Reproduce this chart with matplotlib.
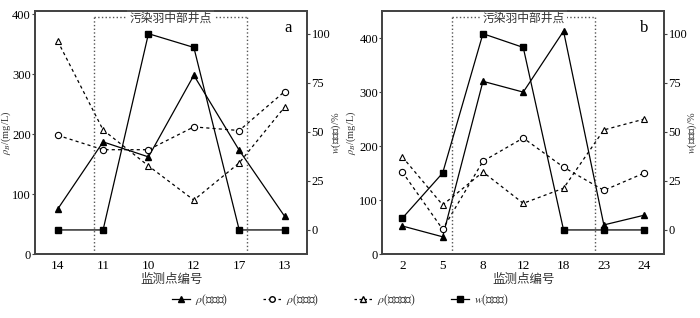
import matplotlib
matplotlib.use("Agg")
import matplotlib.pyplot as plt
from matplotlib.lines import Line2D

plt.rcParams['font.family'] = ['Liberation Serif', 'Noto Sans CJK SC', 'DejaVu Sans']
plt.rcParams['mathtext.fontset'] = 'stix'
plt.rcParams['axes.unicode_minus'] = False

# panel a data
sites_a = ["14", "11", "10", "12", "17", "13"]
cl_a = [75, 187, 162, 298, 173, 63]
so4_a = [198, 174, 174, 212, 206, 271]
hco3_a = [355, 207, 147, 90, 152, 245]
fe_a = [0, 0, 100, 93, 0, 0]

# panel b data
sites_b = ["2", "5", "8", "12", "18", "23", "24"]
cl_b = [52, 32, 320, 300, 413, 54, 72]
so4_b = [152, 46, 172, 215, 161, 118, 150]
hco3_b = [180, 91, 152, 94, 122, 230, 250]
fe_b = [6, 29, 100, 93, 0, 0, 0]

# plume-centre well range (in x index units)
plume_a = (0.79, 4.18)
plume_b = (1.24, 4.78)

spine_col = '#444444'


def draw_panel(ax, sites, cl, so4, hco3, fe, plume, ytop, letter):
    x = list(range(len(sites)))
    ax2 = ax.twinx()
    ax.plot(x, cl, '-', color='k', lw=0.9, marker='^', ms=4.5, mfc='k', mec='k')
    ax.plot(x, so4, '--', color='k', lw=0.9, dashes=(2.5, 2.5), marker='o', ms=4.5,
            mfc='white', mec='k', mew=0.8)
    ax.plot(x, hco3, '--', color='k', lw=0.9, dashes=(2.5, 2.5), marker='^', ms=4.5,
            mfc='white', mec='k', mew=0.8)
    ax2.plot(x, fe, '-', color='k', lw=0.9, marker='s', ms=4.5, mfc='k', mec='k')

    ax.set_xlim(-0.5, len(sites) - 0.5)
    ax.set_ylim(0, ytop)
    ax2.set_ylim(-12.3, 111.5)
    ax.set_xticks(x)
    ax.set_xticklabels(sites)
    ax.set_yticks([0, 100, 200, 300, 400])
    ax2.set_yticks([0, 25, 50, 75, 100])
    ax.tick_params(axis='x', length=0, labelsize=9.5, pad=4)
    ax.tick_params(axis='y', direction='out', length=2.5, width=0.8, labelsize=9, pad=0.5,
                   color=spine_col)
    ax2.tick_params(axis='y', direction='out', length=2.5, width=0.8, labelsize=9, pad=0.5,
                    color=spine_col)
    for a in (ax, ax2):
        for s in a.spines.values():
            s.set_color(spine_col)
            s.set_linewidth(1.3)

    # dotted box for plume-centre wells
    ytop_frac = 0.975
    ax.axvline(plume[0], ymin=0, ymax=ytop_frac, ls=':', color='#555555', lw=1.0)
    ax.axvline(plume[1], ymin=0, ymax=ytop_frac, ls=':', color='#555555', lw=1.0)
    ax.plot(plume, [ytop_frac, ytop_frac], ls=':', color='#555555', lw=1.0,
            transform=ax.get_xaxis_transform(), clip_on=False)
    ax.text(sum(plume) / 2, ytop_frac - 0.005, "污染羽中部井点", ha='center', va='center',
            fontsize=8.5, color='#333333', transform=ax.get_xaxis_transform(),
            bbox=dict(facecolor='white', edgecolor='none', pad=1.5))
    ax.text(0.93, 0.93, letter, transform=ax.transAxes, fontsize=12, ha='center', va='center')

    ax.set_xlabel("监测点编号", fontsize=9, color='#333333', labelpad=2)
    ax.set_ylabel(r"$\rho_B$/(mg/L)", fontsize=7.5, color='#333333')
    ax2.set_ylabel(r"$w$(二价铁)/%", fontsize=7.5, color='#333333')
    return ax2


fig = plt.figure(figsize=(7, 3.18), dpi=100)
ax_a = fig.add_axes([0.05, 0.201, 0.389, 0.764])
ax_b = fig.add_axes([0.546, 0.201, 0.403, 0.764])

axa2 = draw_panel(ax_a, sites_a, cl_a, so4_a, hco3_a, fe_a, plume_a, 405, 'a')
axb2 = draw_panel(ax_b, sites_b, cl_b, so4_b, hco3_b, fe_b, plume_b, 450, 'b')

ax_a.yaxis.set_label_coords(-0.08, 0.5)
axa2.yaxis.set_label_coords(1.082, 0.5)
ax_b.yaxis.set_label_coords(-0.085, 0.5)
axb2.yaxis.set_label_coords(1.076, 0.5)

handles = [
    Line2D([], [], color='k', lw=0.9, marker='^', ms=4, mfc='k'),
    Line2D([], [], color='k', lw=0.9, ls='--', dashes=(2, 2), marker='o', ms=4, mfc='white'),
    Line2D([], [], color='k', lw=0.9, ls='--', dashes=(2, 2), marker='^', ms=4, mfc='white'),
    Line2D([], [], color='k', lw=0.9, marker='s', ms=4, mfc='k'),
]
labels = [r"$\rho$(氯离子)", r"$\rho$(硫酸根)", r"$\rho$(碳酸氢根)", r"$w$(二价铁)"]
fig.legend(handles, labels, loc='center', bbox_to_anchor=(0.486, 0.057), ncol=4,
           frameon=False, fontsize=8.5, handlelength=1.6, handletextpad=0.4,
           columnspacing=2.9, labelcolor='#333333')

fig.savefig("out.png", dpi=100)
